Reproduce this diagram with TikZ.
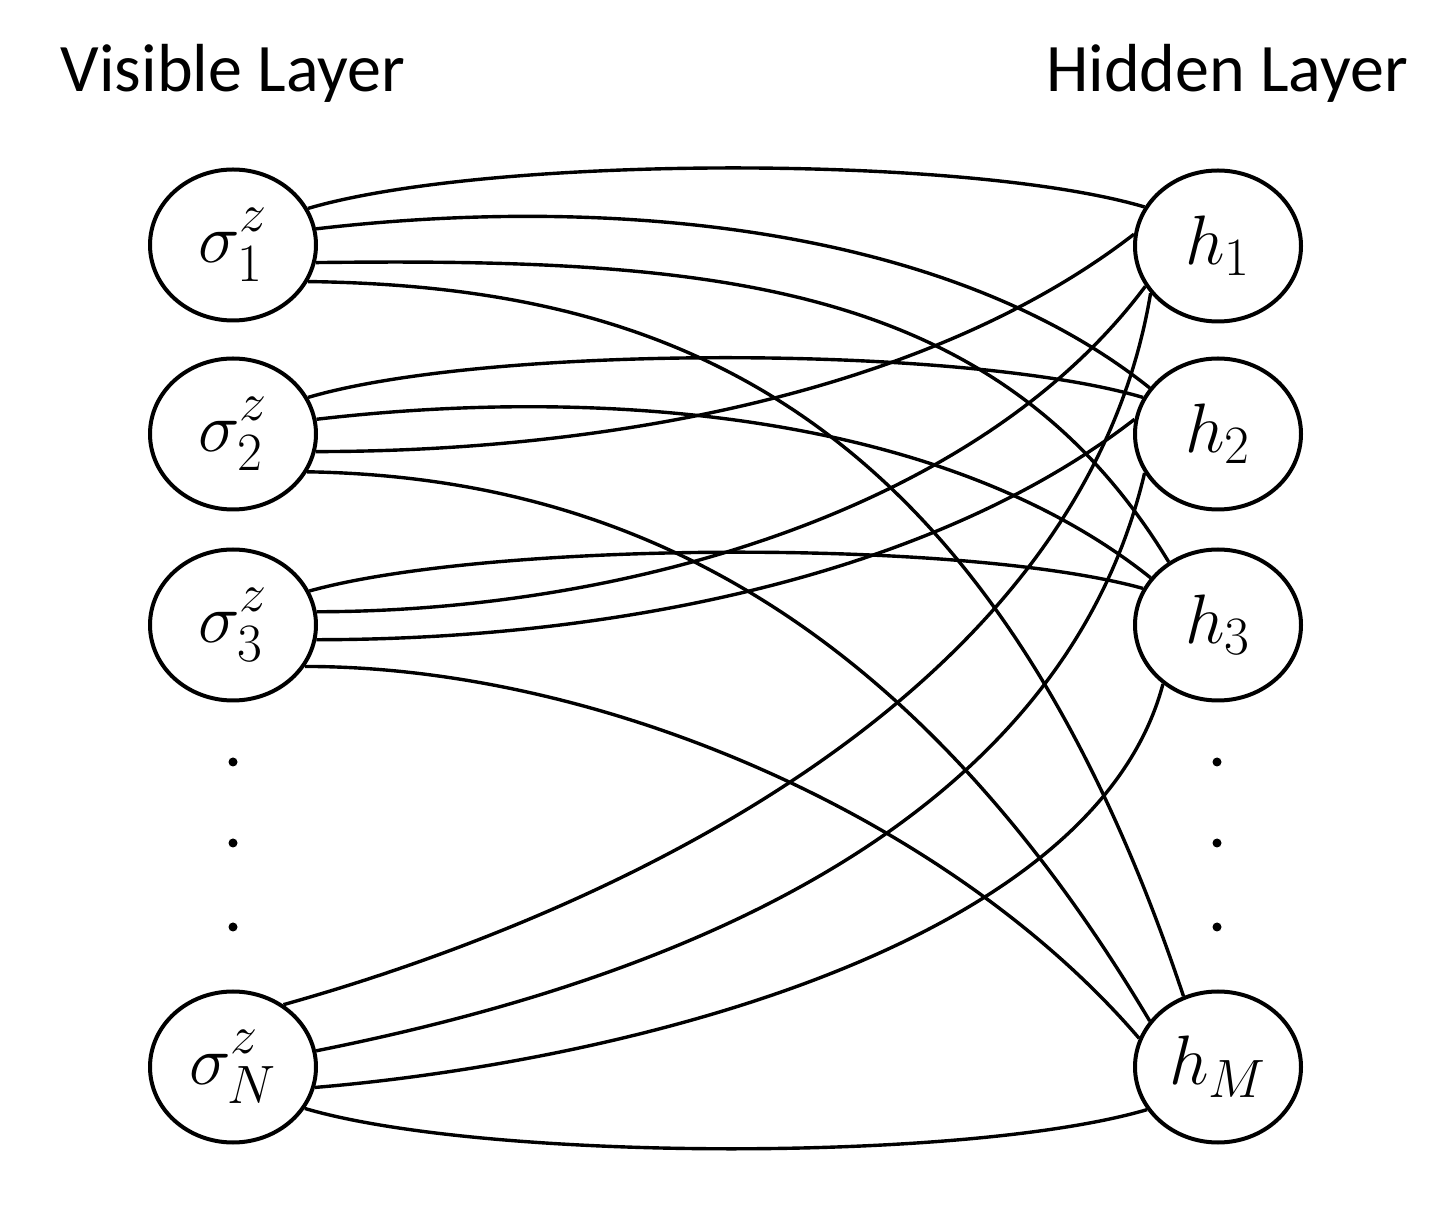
\RequirePackage{fix-cm}
\documentclass[tikz,border=0pt]{standalone}
\usepackage{fontspec}
\setmainfont{Carlito}
\usetikzlibrary{shapes.geometric}
% scripts of the unit labels, set larger than the default ratio
\newcommand{\unitscript}[1]{\mbox{\fontsize{27}{32}\selectfont$#1$}}
\newcommand{\unitsup}[1]{\raisebox{2.5pt}{\unitscript{#1}}}
\newcommand{\unitsub}[1]{\raisebox{-1pt}{\unitscript{#1}}}
\begin{document}
\begin{tikzpicture}[x=0.5pt,y=-0.5pt,
  unit/.style={draw,ellipse,line width=2pt,inner sep=0pt,
    minimum width=83pt,minimum height=75.5pt,
    font=\fontsize{35}{40}\selectfont},
  link/.style={line width=1.7pt},
  title/.style={font=\fontsize{34}{40}\selectfont,inner sep=0pt,anchor=base},
  gap/.style={fill,circle,inner sep=0pt,minimum size=4.5pt}]
\useasboundingbox (0,0) rectangle (1453,1229);

% layer titles
\node[title] (tv) at (233,92) {Visible Layer};
\node[title] (th) at (1227,92) {Hidden Layer};

% visible units
\node[unit] (s1) at (233,245)  {$\sigma^{\unitsup{z}}_{\unitsub{1}}$};
\node[unit] (s2) at (233,434)  {$\sigma^{\unitsup{z}}_{\unitsub{2}}$};
\node[unit] (s3) at (233,625)  {$\sigma^{\unitsup{z}}_{\unitsub{3}}$};
\node[unit] (sN) at (233,1067) {$\sigma^{\unitsup{z}}_{\unitsub{N}}$};

% hidden units
\node[unit] (h1) at (1218,246)  {$h_{\unitscript{1}}$};
\node[unit] (h2) at (1218,434)  {$h_{\unitscript{2}}$};
\node[unit] (h3) at (1218,625)  {$h_{\unitscript{3}}$};
\node[unit] (hM) at (1218,1067) {$h_{\unitscript{M}}$};

% vertical ellipses of dots
\foreach \y [count=\i] in {762,843,927}{
  \node[gap] (vd\i) at (233,\y) {};
  \node[gap] (hd\i) at (1217,\y) {};
}

% couplings from sigma_1
\draw[link] (s1.26)  .. controls +(180,-53) and +(-180,-53) .. (h1.152);
\draw[link] (s1.11)  .. controls +(300,-35) and +(-200,-160) .. (h2.146);
\draw[link] (s1.-12) .. controls +(400,-5)  and +(-170,-280) .. (h3.128);
\draw[link] (s1.-26) .. controls +(350,5)   and +(-200,-600) .. (hM.116);

% couplings from sigma_2
\draw[link] (s2.26)  .. controls +(180,-53) and +(-180,-53) .. (h2.154);
\draw[link] (s2.10)  .. controls +(300,-35) and +(-200,-160) .. (h3.145);
\draw[link] (s2.-12) .. controls +(300,0)   and +(-200,155)  .. (h1.172);
\draw[link] (s2.-27) .. controls +(300,5)   and +(-250,-420) .. (hM.146);

% couplings from sigma_3
\draw[link] (s3.24)  .. controls +(180,-50) and +(-180,-50) .. (h3.154);
\draw[link] (s3.9)   .. controls +(300,0)   and +(-170,228)  .. (h1.209);
\draw[link] (s3.-10) .. controls +(300,0)   and +(-200,155)  .. (h2.170);
\draw[link] (s3.-30) .. controls +(300,0)   and +(-187,-218) .. (hM.160);

% couplings from sigma_N
\draw[link] (sN.51)  .. controls +(300,-84) and +(-69,415)   .. (h1.215);
\draw[link] (sN.11)  .. controls +(300,-60) and +(-90,380)   .. (h2.208);
\draw[link] (sN.-14) .. controls +(300,-25) and +(-70,265)   .. (h3.227);
\draw[link] (sN.-30) .. controls +(180,53)  and +(-180,53)   .. (hM.211);
\end{tikzpicture}
\end{document}
